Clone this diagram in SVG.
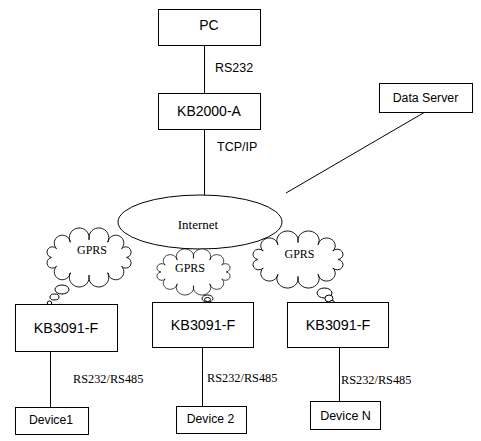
<svg xmlns="http://www.w3.org/2000/svg" width="481" height="441" viewBox="0 0 481 441">
<style>
.box{fill:#fff;stroke:#000;stroke-width:1}
.ln{stroke:#000;stroke-width:1;fill:none}
.cloud{fill:#fff;stroke:#000;stroke-width:1;vector-effect:non-scaling-stroke}
.bub{fill:#fff;stroke:#000;stroke-width:1}
.sans{font-family:"Liberation Sans",Arial,sans-serif;fill:#000}
.serif{font-family:"Liberation Serif","Times New Roman",serif;fill:#000}
</style>
<defs>
<path id="cloudShape" d="M92,35 A6.1,6.1 0 1 1 86.4,45 A9,9 0 1 1 71,52.3 A11.2,11.2 0 1 1 50,55 A11.2,11.2 0 1 1 29,52.3 A9,9 0 1 1 13.6,45 A6.1,6.1 0 1 1 8,35 A6.1,6.1 0 1 1 13.6,25 A9,9 0 1 1 29,17.7 A11.2,11.2 0 1 1 50,15 A11.2,11.2 0 1 1 71,17.7 A9,9 0 1 1 86.4,25 A6.1,6.1 0 1 1 92,35 Z"/>
</defs>
<rect width="481" height="441" fill="#fff"/>

<g id="internet">
<ellipse cx="200" cy="222" rx="82" ry="27" class="ln"/>
<text x="198" y="229" class="serif" font-size="13" text-anchor="middle">Internet</text>
</g>

<g id="connectors">
<line x1="204.5" y1="45" x2="204.5" y2="93" class="ln"/>
<line x1="204.5" y1="129" x2="204.5" y2="195" class="ln"/>
<line x1="425" y1="112" x2="286" y2="193" class="ln"/>
<line x1="50.5" y1="351" x2="50.5" y2="407" class="ln"/>
<line x1="202.5" y1="347" x2="202.5" y2="406" class="ln"/>
<line x1="339.5" y1="347" x2="339.5" y2="401" class="ln"/>
<text x="215" y="72" class="sans" font-size="12.5">RS232</text>
<text x="217" y="151" class="sans" font-size="12.5">TCP/IP</text>
<text x="73" y="383" class="serif" font-size="12.3">RS232/RS485</text>
<text x="207" y="382" class="serif" font-size="12.3">RS232/RS485</text>
<text x="341" y="384" class="serif" font-size="12.3">RS232/RS485</text>
</g>

<g id="pc">
<rect x="158.5" y="9.5" width="102" height="36" class="box"/>
<text x="209" y="30" class="sans" font-size="14" text-anchor="middle">PC</text>
</g>
<g id="kb2000a">
<rect x="158.5" y="93.5" width="102" height="36" class="box"/>
<text x="209" y="116" class="sans" font-size="14" text-anchor="middle">KB2000-A</text>
</g>
<g id="dataserver">
<rect x="379.5" y="83.5" width="93" height="29" class="box"/>
<text x="425.5" y="101.5" class="sans" font-size="12.3" text-anchor="middle">Data Server</text>
</g>

<g id="gprs1">
<use href="#cloudShape" class="cloud" transform="translate(44.4,226.6) scale(0.893,0.882)"/>
<ellipse cx="62" cy="289.5" rx="7" ry="4.5" class="bub"/>
<ellipse cx="54.5" cy="297" rx="4.5" ry="3" class="bub"/>
<ellipse cx="49.5" cy="303" rx="2.3" ry="2" class="bub"/>
<text x="92" y="254" class="serif" font-size="12" text-anchor="middle">GPRS</text>
</g>
<g id="gprs2">
<use href="#cloudShape" class="cloud" transform="translate(154.7,247.9) scale(0.776,0.688)"/>
<ellipse cx="207.5" cy="298.5" rx="5.5" ry="3.5" class="bub"/>
<ellipse cx="207.5" cy="299.5" rx="3" ry="2" class="bub"/>
<text x="190" y="272" class="serif" font-size="12" text-anchor="middle">GPRS</text>
</g>
<g id="gprs3">
<use href="#cloudShape" class="cloud" transform="translate(250.2,229.7) scale(0.956,0.852)"/>
<ellipse cx="324.5" cy="293" rx="7.5" ry="5" class="bub"/>
<ellipse cx="329" cy="298.5" rx="4" ry="3.5" class="bub"/>
<ellipse cx="332" cy="302.5" rx="2.5" ry="2" class="bub"/>
<text x="299.5" y="258" class="serif" font-size="12" text-anchor="middle">GPRS</text>
</g>

<g id="kb3091f1">
<rect x="15.5" y="304.5" width="102" height="47" class="box"/>
<text x="66" y="333" class="sans" font-size="14.3" text-anchor="middle">KB3091-F</text>
</g>
<g id="kb3091f2">
<rect x="152.5" y="302.5" width="101" height="45" class="box"/>
<text x="203" y="330" class="sans" font-size="14.3" text-anchor="middle">KB3091-F</text>
</g>
<g id="kb3091f3">
<rect x="287.5" y="302.5" width="101" height="45" class="box"/>
<text x="338" y="330" class="sans" font-size="14.3" text-anchor="middle">KB3091-F</text>
</g>

<g id="device1">
<rect x="15.5" y="407.5" width="73" height="27" class="box"/>
<text x="51" y="424" class="sans" font-size="12.2" text-anchor="middle">Device1</text>
</g>
<g id="device2">
<rect x="176.5" y="406.5" width="70" height="27" class="box"/>
<text x="210.5" y="423" class="sans" font-size="12.2" text-anchor="middle">Device 2</text>
</g>
<g id="deviceN">
<rect x="310.5" y="401.5" width="70" height="28" class="box"/>
<text x="345.5" y="420" class="sans" font-size="12.5" text-anchor="middle">Device N</text>
</g>
</svg>
